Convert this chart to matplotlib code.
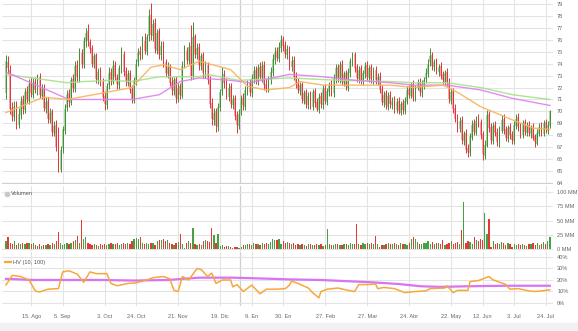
import numpy as np
import pandas as pd
import matplotlib
matplotlib.use("Agg")
import matplotlib.pyplot as plt

plt.rcParams['font.family'] = ['Liberation Sans', 'DejaVu Sans']

start_date = "2022-07-28"

opens = [71.5, 74.1, 73.5, 70.3, 69.5, 70.5, 68.9, 69.7, 71.0, 70.1,
         71.7, 70.9, 72.4, 71.4, 72.5, 71.7, 72.9, 71.3, 72.0, 70.2,
         70.9, 69.3, 70.0, 68.2, 68.9, 67.1, 65.1, 66.9, 68.4, 70.3,
         71.5, 70.7, 72.7, 71.9, 73.9, 72.8, 74.9, 73.9, 75.8, 76.7,
         75.8, 75.3, 73.9, 74.7, 72.6, 73.4, 72.5, 71.3, 70.5, 72.2,
         73.3, 72.5, 73.9, 72.8, 72.2, 73.5, 74.8, 73.4, 72.4, 73.2,
         71.9, 70.9, 72.5, 74.1, 75.1, 74.6, 75.9, 75.0, 76.3, 78.1,
         76.3, 77.4, 75.1, 76.7, 74.7, 75.6, 74.1, 73.1, 73.8, 72.5,
         71.7, 72.7, 71.0, 72.1, 71.3, 73.9, 75.1, 74.2, 75.5, 72.9,
         76.3, 74.7, 75.4, 73.8, 74.7, 73.1, 73.9, 72.7, 70.7, 69.3,
         70.0, 68.7, 70.3, 71.7, 73.1, 72.5, 71.2, 72.1, 70.5, 71.1,
         69.7, 68.8, 69.9, 71.1, 70.4, 71.7, 72.4, 71.5, 72.7, 73.5,
         72.5, 73.7, 72.8, 73.9, 72.3, 71.8, 72.6, 73.2, 74.3, 75.1,
         74.4, 75.3, 76.1, 75.6, 74.7, 75.3, 73.7, 74.3, 73.0, 72.5,
         71.7, 72.3, 70.9, 71.6, 70.5, 71.4, 70.4, 71.7, 70.8, 70.1,
         71.3, 70.5, 72.0, 70.8, 71.6, 72.3, 71.5, 72.7, 73.7, 72.7,
         74.0, 72.4, 73.2, 72.0, 73.2, 74.1, 74.8, 73.7, 72.7, 73.6,
         72.5, 73.1, 73.9, 72.8, 73.7, 72.6, 73.5, 72.5, 73.0, 71.9,
         70.7, 71.5, 70.4, 71.4, 70.5, 71.0, 70.1, 70.9, 69.9, 70.7,
         70.0, 70.8, 71.9, 71.3, 72.3, 71.1, 72.0, 72.5, 71.5, 72.2,
         72.7, 73.1, 74.1, 74.7, 73.7, 74.2, 73.3, 73.8, 73.1, 72.5,
         73.3, 72.5, 70.9, 71.7, 70.3, 69.5, 68.5, 69.3, 67.5, 68.2,
         66.9, 66.5, 67.8, 69.0, 68.2, 69.3, 69.1, 68.1, 66.3, 67.1,
         69.8, 68.7, 67.5, 68.9, 68.3, 67.3, 68.4, 69.4, 68.5, 67.7,
         68.7, 68.1, 67.5, 68.8, 69.5, 68.8, 68.0, 69.1, 68.2, 68.9,
         68.1, 68.7, 67.9, 67.3, 68.1, 68.8, 68.1, 69.1, 68.4, 68.8]

highs = [74.7, 74.6, 73.9, 70.8, 70.9, 70.9, 70.3, 71.3, 71.4, 72.0,
         72.1, 72.7, 72.9, 72.8, 72.9, 73.1, 73.2, 72.3, 72.3, 71.2,
         71.2, 70.3, 70.2, 69.2, 69.3, 68.7, 67.1, 68.8, 70.6, 71.8,
         71.9, 72.9, 73.1, 74.2, 74.3, 75.3, 75.2, 76.2, 77.0, 77.3,
         76.1, 75.6, 74.9, 74.9, 73.6, 73.7, 72.8, 71.7, 72.4, 73.7,
         73.6, 74.3, 74.2, 73.1, 73.9, 75.4, 75.1, 73.7, 73.5, 73.5,
         72.2, 72.9, 74.4, 75.3, 75.5, 76.3, 76.6, 76.5, 78.6, 79.1,
         77.7, 77.8, 76.9, 77.0, 75.9, 75.9, 74.4, 74.1, 74.0, 72.9,
         72.9, 73.0, 72.4, 72.4, 74.2, 75.6, 75.4, 75.8, 77.2, 77.5,
         76.5, 75.7, 75.7, 74.9, 75.0, 74.2, 74.1, 73.0, 71.1, 70.3,
         70.3, 70.7, 71.9, 73.7, 73.5, 72.8, 72.4, 72.4, 71.4, 71.4,
         70.0, 70.2, 71.4, 71.5, 72.1, 72.6, 72.7, 73.1, 73.8, 73.8,
         74.0, 74.1, 74.2, 74.2, 72.7, 73.0, 73.7, 74.8, 75.4, 75.4,
         75.8, 76.4, 76.3, 75.9, 75.6, 75.5, 74.6, 74.6, 73.3, 72.8,
         72.5, 72.5, 71.8, 71.9, 71.6, 71.7, 71.9, 72.0, 71.1, 71.5,
         71.6, 72.2, 72.3, 72.0, 72.5, 72.6, 73.1, 74.0, 74.0, 74.2,
         74.3, 73.4, 73.5, 73.6, 74.5, 75.0, 75.0, 74.0, 73.8, 73.9,
         73.5, 74.1, 74.2, 73.9, 74.0, 73.7, 73.8, 73.2, 73.3, 72.2,
         71.7, 71.8, 71.6, 71.7, 71.2, 71.3, 71.1, 71.2, 70.9, 71.0,
         71.2, 72.1, 72.2, 72.5, 72.6, 72.2, 72.7, 72.8, 72.6, 72.9,
         73.6, 74.4, 75.3, 75.0, 74.4, 74.5, 74.0, 74.1, 73.4, 73.5,
         73.6, 72.8, 72.0, 72.0, 70.6, 69.8, 69.5, 69.6, 68.4, 68.5,
         67.3, 68.2, 69.3, 69.4, 69.6, 69.8, 69.4, 68.4, 67.6, 70.1,
         70.0, 69.0, 69.1, 69.2, 68.6, 68.8, 69.7, 69.8, 68.8, 68.9,
         69.0, 68.4, 69.2, 69.8, 69.9, 69.0, 69.3, 69.4, 69.1, 69.2,
         68.9, 69.0, 68.1, 68.5, 69.0, 69.1, 69.3, 69.4, 69.2, 70.1]

lows = [71.0, 73.1, 69.8, 69.2, 69.2, 68.5, 68.6, 69.4, 69.8, 69.9,
        70.7, 70.6, 71.2, 71.1, 71.5, 71.4, 71.1, 71.0, 70.0, 69.9,
        69.0, 69.0, 67.9, 67.9, 66.7, 64.9, 64.9, 66.5, 68.1, 70.0,
        70.4, 70.5, 71.6, 71.6, 72.5, 72.5, 73.6, 73.6, 75.4, 75.5,
        74.9, 73.7, 73.6, 72.4, 72.3, 72.1, 70.9, 70.1, 70.2, 71.9,
        72.2, 72.3, 72.6, 71.9, 71.9, 73.2, 73.0, 72.1, 72.1, 71.5,
        70.7, 70.7, 72.2, 73.8, 74.3, 74.4, 74.8, 74.7, 75.9, 76.0,
        75.9, 74.9, 74.8, 74.4, 74.3, 73.7, 72.9, 72.8, 72.1, 71.4,
        71.4, 70.7, 70.8, 71.0, 71.1, 73.6, 74.0, 74.0, 72.6, 72.7,
        74.5, 74.4, 73.5, 73.5, 72.8, 72.8, 72.3, 70.3, 68.9, 68.9,
        68.3, 68.4, 70.0, 71.4, 72.0, 71.0, 70.9, 70.3, 70.2, 69.3,
        68.2, 68.5, 69.7, 70.1, 70.1, 71.4, 71.3, 71.2, 72.4, 72.3,
        72.2, 72.6, 72.5, 71.8, 71.6, 71.6, 72.3, 73.0, 74.0, 74.2,
        74.1, 75.0, 75.1, 74.5, 74.4, 73.5, 73.4, 72.6, 72.0, 71.5,
        71.4, 70.7, 70.6, 70.3, 70.2, 70.2, 70.1, 70.4, 70.0, 69.9,
        70.3, 70.2, 70.6, 70.5, 71.3, 71.3, 71.2, 72.4, 72.5, 72.4,
        72.2, 72.1, 71.8, 71.7, 72.9, 73.8, 73.3, 72.5, 72.4, 72.3,
        72.2, 72.8, 72.6, 72.5, 72.4, 72.3, 72.3, 72.2, 71.5, 70.5,
        70.4, 70.2, 70.1, 70.3, 70.2, 69.9, 69.9, 69.8, 69.7, 69.8,
        69.8, 70.6, 71.1, 71.1, 70.9, 70.9, 71.8, 71.3, 71.2, 71.9,
        72.4, 72.9, 73.8, 73.5, 73.4, 73.1, 73.0, 72.7, 72.3, 72.2,
        72.1, 70.7, 70.6, 69.9, 69.1, 68.3, 68.3, 67.3, 67.2, 66.5,
        66.2, 66.3, 67.6, 68.0, 68.0, 68.7, 67.7, 65.9, 66.0, 67.0,
        68.3, 67.3, 67.3, 67.9, 67.1, 67.0, 68.2, 68.1, 67.5, 67.4,
        67.7, 67.3, 67.3, 68.5, 68.4, 67.8, 67.8, 68.0, 67.9, 67.9,
        67.8, 67.6, 67.0, 67.2, 67.9, 67.9, 67.9, 68.2, 68.1, 68.6]

closes = [74.2, 73.6, 70.2, 69.6, 70.4, 68.8, 69.8, 70.9, 70.2, 71.6,
          71.0, 72.3, 71.5, 72.4, 71.8, 72.8, 71.4, 71.9, 70.3, 70.8,
          69.4, 69.9, 68.3, 68.8, 67.0, 65.2, 66.8, 68.5, 70.2, 71.4,
          70.8, 72.6, 72.0, 73.8, 72.9, 74.8, 74.0, 75.9, 76.6, 75.9,
          75.2, 74.0, 74.6, 72.7, 73.3, 72.4, 71.2, 70.6, 72.1, 73.2,
          72.6, 73.8, 72.9, 72.3, 73.6, 74.7, 73.3, 72.5, 73.1, 71.8,
          71.0, 72.6, 74.0, 75.0, 74.7, 75.8, 75.1, 76.2, 78.0, 76.4,
          77.3, 75.2, 76.6, 74.8, 75.5, 74.0, 73.2, 73.7, 72.4, 71.8,
          72.6, 71.1, 72.0, 71.4, 73.8, 75.0, 74.3, 75.4, 73.0, 76.2,
          74.8, 75.3, 73.9, 74.6, 73.2, 73.8, 72.6, 70.6, 69.4, 69.9,
          68.8, 70.4, 71.6, 73.0, 72.4, 71.3, 72.0, 70.6, 71.0, 69.6,
          68.9, 69.8, 71.0, 70.5, 71.8, 72.3, 71.6, 72.8, 73.4, 72.6,
          73.6, 72.9, 73.8, 72.2, 71.9, 72.7, 73.3, 74.4, 75.0, 74.5,
          75.4, 76.0, 75.5, 74.8, 75.2, 73.8, 74.2, 72.9, 72.4, 71.8,
          72.2, 71.0, 71.5, 70.6, 71.3, 70.5, 71.6, 70.7, 70.2, 71.2,
          70.6, 71.9, 70.9, 71.7, 72.2, 71.6, 72.8, 73.6, 72.8, 73.9,
          72.5, 73.1, 72.1, 73.3, 74.2, 74.7, 73.6, 72.8, 73.5, 72.6,
          73.2, 73.8, 72.9, 73.6, 72.7, 73.4, 72.6, 72.9, 71.8, 70.8,
          71.4, 70.5, 71.3, 70.6, 70.9, 70.2, 70.8, 70.0, 70.6, 70.1,
          70.9, 71.8, 71.4, 72.2, 71.2, 71.9, 72.4, 71.6, 72.3, 72.6,
          73.2, 74.0, 74.6, 73.8, 74.1, 73.4, 73.7, 73.0, 72.6, 73.2,
          72.4, 71.0, 71.6, 70.2, 69.4, 68.6, 69.2, 67.6, 68.1, 66.8,
          66.6, 67.9, 68.9, 68.3, 69.2, 69.0, 68.0, 66.4, 67.2, 69.7,
          68.6, 67.6, 68.8, 68.2, 67.4, 68.5, 69.3, 68.4, 67.8, 68.6,
          68.0, 67.6, 68.9, 69.4, 68.7, 68.1, 69.0, 68.3, 68.8, 68.2,
          68.6, 67.8, 67.4, 68.2, 68.7, 68.2, 69.0, 68.5, 68.9, 70.0]

volume_mm = [14, 21, 12, 10, 15, 8, 11, 9, 12, 10,
             11, 12, 9, 11, 7, 6, 9, 6, 8, 7,
             9, 7, 12, 10, 14, 30, 12, 8, 10, 11,
             9, 11, 14, 16, 24, 11, 51, 18, 21, 12,
             9, 8, 10, 7, 6, 9, 8, 10, 7, 9,
             11, 10, 9, 12, 8, 10, 11, 9, 12, 10,
             14, 19, 20, 18, 21, 12, 9, 11, 10, 12,
             11, 8, 15, 17, 16, 18, 14, 17, 12, 10,
             7, 11, 13, 27, 9, 3, 12, 14, 11, 38,
             9, 8, 10, 7, 15, 16, 14, 13, 37, 25,
             12, 26, 6, 7, 5, 6, 6, 4, 3, 4,
             4, 3, 5, 8, 7, 9, 10, 8, 11, 9,
             10, 8, 12, 10, 11, 9, 13, 18, 17, 16,
             18, 10, 14, 12, 13, 11, 10, 12, 8, 9,
             7, 9, 8, 6, 10, 9, 8, 7, 9, 8,
             10, 6, 8, 35, 9, 7, 8, 10, 9, 8,
             7, 9, 10, 8, 11, 9, 10, 44, 9, 8,
             12, 10, 11, 9, 12, 10, 23, 9, 4, 7,
             8, 9, 11, 10, 9, 12, 10, 8, 11, 9,
             10, 8, 12, 19, 21, 18, 13, 9, 10, 12,
             11, 14, 10, 13, 9, 12, 11, 10, 17, 8,
             9, 11, 14, 10, 12, 13, 9, 34, 83, 12,
             14, 13, 10, 21, 17, 15, 18, 16, 64, 26,
             53, 5, 14, 10, 12, 9, 13, 11, 8, 12,
             10, 4, 9, 8, 10, 7, 9, 8, 6, 10,
             9, 12, 7, 11, 8, 10, 13, 9, 15, 21]

# moving averages on price panel (bar index, value)
ma_short_idx = [0, 18, 29, 45, 60, 69, 75, 83, 92, 107, 115, 124, 135, 140, 151, 183, 194, 208, 215, 226, 241, 251, 259]
ma_short_val = [69.9, 71.2, 71.0, 71.5, 72.0, 73.7, 73.9, 73.5, 74.2, 73.5, 72.1, 71.8, 72.0, 72.5, 72.2, 72.2, 72.0, 72.2, 71.6, 70.4, 69.3, 68.6, 68.5]
ma_mid_idx = [0, 30, 50, 60, 73, 83, 92, 107, 116, 135, 151, 167, 183, 194, 210, 226, 241, 259]
ma_mid_val = [73.3, 71.0, 71.0, 71.0, 71.4, 72.5, 72.8, 72.6, 72.4, 73.1, 72.9, 72.6, 72.4, 72.2, 72.2, 71.8, 71.1, 70.5]
ma_long_idx = [0, 29, 37, 50, 60, 73, 92, 96, 111, 135, 159, 183, 194, 210, 226, 241, 259]
ma_long_val = [73.1, 72.4, 72.5, 72.6, 72.5, 72.9, 72.9, 73.1, 72.6, 72.8, 72.6, 72.5, 72.4, 72.4, 72.0, 71.4, 71.0]

# historical volatility (bar index, %)
hv10_idx = [0, 3, 7, 11, 14, 16, 20, 25, 27, 30, 34, 37, 40, 43, 48, 50, 53, 58, 62, 67,
            70, 75, 78, 80, 82, 84, 87, 91, 93, 96, 98, 100, 103, 107, 108, 110, 113, 117, 121, 124,
            129, 133, 135, 136, 139, 144, 146, 149, 150, 153, 158, 163, 166, 168, 172, 176, 177, 180, 185, 190,
            195, 200, 202, 209, 210, 213, 215, 220, 221, 225, 230, 232, 236, 238, 240, 244, 249, 252, 255, 259]
hv10_val = [15.7, 24.0, 23.0, 20.0, 10.4, 9.6, 12.0, 12.5, 27.0, 28.0, 25.0, 18.0, 27.0, 25.5, 25.5, 17.0, 15.0, 17.0, 17.5, 20.0,
            22.0, 23.0, 21.0, 11.0, 10.0, 23.0, 20.0, 30.0, 29.0, 23.0, 26.0, 17.0, 20.0, 20.0, 14.0, 16.0, 10.0, 15.5, 8.0, 12.0,
            12.0, 12.5, 15.5, 19.0, 17.0, 13.0, 9.0, 4.5, 10.0, 12.0, 13.0, 11.0, 10.0, 16.0, 16.0, 16.5, 12.5, 13.5, 12.5, 9.0,
            10.0, 10.5, 12.5, 13.0, 15.0, 9.0, 11.0, 11.0, 18.6, 19.5, 23.0, 20.0, 17.5, 16.0, 12.0, 12.5, 10.5, 10.0, 10.5, 11.5]
hv100_idx = [0, 13, 26, 45, 61, 77, 92, 108, 127, 135, 150, 174, 187, 198, 207, 219, 238, 259]
hv100_val = [21.0, 20.0, 20.0, 20.0, 19.5, 20.0, 22.0, 22.0, 21.0, 20.5, 20.0, 18.0, 16.5, 14.5, 14.0, 14.5, 15.0, 15.0]

tick_dates = ["2022-08-15", "2022-09-05", "2022-10-03", "2022-10-24", "2022-11-21", "2022-12-19",
              "2023-01-09", "2023-01-30", "2023-02-27", "2023-03-27", "2023-04-24", "2023-05-22",
              "2023-06-12", "2023-07-03", "2023-07-24"]
tick_labels = ["15. Ago", "5. Sep", "3. Oct", "24. Oct", "21. Nov", "19. Dic", "9. En", "30. En",
               "27. Feb", "27. Mar", "24. Abr", "22. May", "12. Jun", "3. Jul", "24. Jul"]
year_start = "2023-01-02"

price_ticks = list(range(64, 80))
vol_ticks = [0, 25, 50, 75, 100]
hv_ticks = [0, 10, 20, 30, 40]

# ---------------------------------------------------------------
o = np.array(opens); h = np.array(highs); l = np.array(lows); c = np.array(closes)
n = len(c)
x = np.arange(n)
dates = pd.bdate_range(start_date, periods=n)
tick_pos = [dates.get_loc(pd.Timestamp(d)) for d in tick_dates]
year_pos = dates.get_loc(pd.Timestamp(year_start)) - 0.5
up = c >= o

W, H = 578, 331
FS = 4.1
fig = plt.figure(figsize=(W / 100, H / 100), dpi=100)
fig.patch.set_facecolor("white")

def fax(x0, y0, x1, y1):
    return fig.add_axes([x0 / W, 1 - y1 / H, (x1 - x0) / W, (y1 - y0) / H])

ax_p = fax(2, 0, 553, 184)
ax_v = fax(2, 186, 553, 251)
ax_h = fax(2, 252, 553, 306)

GRID = "#e4e4e4"
LBL = "#666666"
G_D, G_L = "#3f8f35", "#9fcf95"
R_D, R_L = "#e3323a", "#f29a9a"
xl = (-1.9, 260.5)

for ax in (ax_p, ax_v, ax_h):
    ax.set_xlim(*xl)
    for s in ax.spines.values():
        s.set_visible(False)
    ax.set_facecolor("none")
    ax.tick_params(axis="both", length=0, labelsize=FS, colors=LBL, pad=3)
    ax.yaxis.tick_right()
    ax.set_xticks(tick_pos)
    ax.set_xticklabels([])
    ax.grid(True, color=GRID, lw=0.8, zorder=0)
    ax.set_axisbelow(True)
    ax.axvline(year_pos, color="#cfcfcf", lw=0.9, zorder=0)

# price panel
ax_p.set_ylim(63.92, 79.33)
ax_p.set_yticks(price_ticks)
ax_p.set_yticklabels([str(t) for t in price_ticks])
for mask, dark, light in ((up, G_D, G_L), (~up, R_D, R_L)):
    bot = np.minimum(o, c)[mask]
    hgt = np.abs(c - o)[mask]
    ax_p.bar(x[mask], hgt, bottom=bot, width=0.85, color=light, alpha=0.85, lw=0, zorder=2)
    ax_p.vlines(x[mask], l[mask], h[mask], color=dark, lw=0.7, zorder=3)
ax_p.plot(ma_long_idx, ma_long_val, color="#a6e08a", lw=1.0, alpha=0.9, zorder=4)
ax_p.plot(ma_mid_idx, ma_mid_val, color="#e27ff0", lw=1.0, alpha=0.9, zorder=4)
ax_p.plot(ma_short_idx, ma_short_val, color="#f7b35a", lw=1.0, alpha=0.9, zorder=4)
ax_p.axhline(63.95, color="#d0d0d0", lw=1.6, zorder=1)

# volume panel
ax_v.set_ylim(-2.6, 110)
ax_v.set_yticks(vol_ticks)
ax_v.set_yticklabels([f"{t} MM" for t in vol_ticks])
vcol = np.where(up, "#45a141", "#e53935")
ax_v.bar(x, volume_mm, width=0.62, color=vcol, lw=0, zorder=2)
ax_v.scatter([0.3], [97], s=9, color="#c8c8c8", zorder=5, clip_on=False)
ax_v.text(2.4, 97, "Volumen", fontsize=FS, color="#555555", va="center", ha="left")

# HV panel
ax_h.set_ylim(-2.6, 44.3)
ax_h.set_yticks(hv_ticks)
ax_h.set_yticklabels([f"{t}%" for t in hv_ticks])
ax_h.plot(hv100_idx, hv100_val, color="#d873f2", lw=1.6, zorder=3)
ax_h.plot(hv10_idx, hv10_val, color="#f6a83a", lw=1.1, zorder=4)
ax_h.plot([-0.6, 2.2], [35.5, 35.5], color="#f6a83a", lw=1.6, zorder=5)
ax_h.text(3.3, 35.5, "HV (10, 100)", fontsize=FS, color="#555555", va="center", ha="left")
ax_h.set_xticklabels(tick_labels)
ax_h.tick_params(axis="x", pad=6)

# bottom strip
fig.patches.append(plt.Rectangle((0, 0), 1, 8 / H, transform=fig.transFigure,
                                 color="#f1f1f1", zorder=-1))

fig.savefig("out.png", dpi=100)
